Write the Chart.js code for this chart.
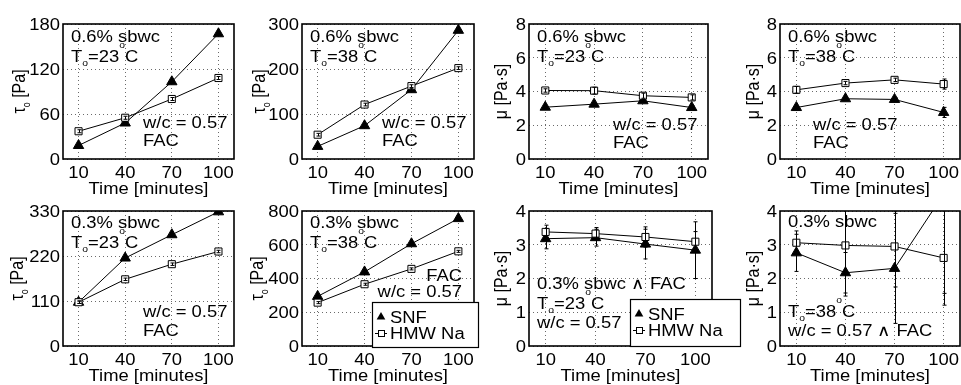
<!DOCTYPE html>
<html>
<head>
<meta charset="utf-8">
<script src="https://cdn.jsdelivr.net/npm/chart.js@4.4.1/dist/chart.umd.min.js"></script>
<style>
  html, body { margin: 0; padding: 0; background: #fff; width: 961px; height: 385px; overflow: hidden; position: relative; }
  canvas { position: absolute; }
</style>
</head>
<body>
<script>
// ---- data -------------------------------------------------------------
const times = [10, 40, 70, 100];
const xTicks = [10, 40, 70, 100];
const seriesNames = ['SNF', 'HMW Na'];

// yield stress τo [Pa], 0.6% sbwc
const tau06_23_snf = [18, 48, 103, 167];
const tau06_23_hmw = [37, 55, 80, 108];
const tau06_23_snfErr = [2, 2, 2, 2];
const tau06_23_hmwErr = [2, 2, 2, 2];
const tau06_38_snf = [28, 74, 154, 286];
const tau06_38_hmw = [54, 121, 162, 202];
const tau06_38_snfErr = [3, 3, 3, 3];
const tau06_38_hmwErr = [3, 3, 3, 3];

// plastic viscosity μ [Pa·s], 0.6% sbwc
const mu06_23_snf = [3.07, 3.25, 3.45, 3.05];
const mu06_23_hmw = [4.06, 4.05, 3.75, 3.65];
const mu06_23_snfErr = [0.05, 0.05, 0.08, 0.1];
const mu06_23_hmwErr = [0.1, 0.2, 0.15, 0.15];
const mu06_38_snf = [3.05, 3.57, 3.53, 2.76];
const mu06_38_hmw = [4.1, 4.5, 4.69, 4.44];
const mu06_38_snfErr = [0.05, 0.1, 0.1, 0.3];
const mu06_38_hmwErr = [0.2, 0.1, 0.1, 0.3];

// yield stress τo [Pa], 0.3% sbwc
const tau03_23_snf = [107, 215, 272, 328];
const tau03_23_hmw = [107, 163, 200, 231];
const tau03_23_snfErr = [3, 3, 3, 3];
const tau03_23_hmwErr = [3, 3, 3, 3];
const tau03_38_snf = [294, 439, 606, 755];
const tau03_38_hmw = [257, 366, 457, 561];
const tau03_38_snfErr = [6, 6, 6, 6];
const tau03_38_hmwErr = [6, 6, 6, 6];

// plastic viscosity μ [Pa·s], 0.3% sbwc
const mu03_23_snf = [3.18, 3.21, 3.02, 2.84];
const mu03_23_hmw = [3.38, 3.33, 3.23, 3.09];
const mu03_23_snfErr = [0.3, 0.25, 0.44, 0.84];
const mu03_23_hmwErr = [0.2, 0.18, 0.3, 0.3];
const mu03_38_snf = [2.76, 2.17, 2.30, 4.5];
const mu03_38_hmw = [3.06, 2.98, 2.95, 2.61];
const mu03_38_snfErr = [0.55, 0.6, 1.63, 2.94];
const mu03_38_hmwErr = [0.35, 1.5, 1.2, 1.4];

// y tick values
const tauTicks06_23 = [0, 60, 120, 180];
const tauTicks06_38 = [0, 100, 200, 300];
const muTicks06 = [0, 2, 4, 6, 8];
const tauTicks03_23 = [0, 110, 220, 330];
const tauTicks03_38 = [0, 200, 400, 600, 800];
const muTicks03 = [0, 1, 2, 3, 4];

// ---- text helpers ------------------------------------------------------
// Helvetica-like face, drawn slightly wide
const FAMILY = '"Liberation Sans", Arial, sans-serif';
const FS = 16;
const SMALL = 9;
const SX = 1.15;
function runFont(kind) { return (kind ? SMALL : FS) + 'px ' + FAMILY; }
function runDy(kind) { return kind === 'sub' ? 4 : kind === 'sup' ? -14 : 0; }
function toRuns(t) { return typeof t === 'string' ? [[t]] : t; }
function richWidth(ctx, runs) {
  let w = 0;
  runs.forEach(r => { ctx.font = runFont(r[1]); w += ctx.measureText(r[0]).width; });
  return w;
}
// draws text runs along the current x axis; glyphs widened by `stretch`
function drawRich(ctx, text, x, y, align, stretch) {
  const runs = toRuns(text);
  const k = stretch === undefined ? SX : stretch;
  const w = richWidth(ctx, runs) * k;
  let cx = align === 'right' ? x - w : align === 'center' ? x - w / 2 : x;
  ctx.textAlign = 'left';
  ctx.textBaseline = 'alphabetic';
  ctx.fillStyle = '#000';
  runs.forEach(r => {
    ctx.font = runFont(r[1]);
    ctx.save();
    ctx.translate(cx, y + runDy(r[1]));
    ctx.scale(k, 1);
    ctx.fillText(r[0], 0, 0);
    ctx.restore();
    cx += ctx.measureText(r[0]).width * k;
  });
}

const T23 = [['T'], ['o', 'sub'], ['=23'], ['o', 'sup'], ['C']];
const T38 = [['T'], ['o', 'sub'], ['=38'], ['o', 'sup'], ['C']];
const TAU_TITLE = [['τ'], ['o', 'sub'], [' [Pa]']];
const MU_TITLE = 'μ [Pa·s]';
const X_TITLE = 'Time [minutes]';

// ---- decoration plugin: error bars, frame, tick labels, notes, titles, legend
const panelDecor = {
  id: 'panelDecor',
  afterDatasetsDraw(chart) {
    const ctx = chart.ctx, ca = chart.chartArea;
    const xs = chart.scales.x, ys = chart.scales.y;
    ctx.save();
    ctx.beginPath();
    ctx.rect(ca.left, ca.top, ca.right - ca.left, ca.bottom - ca.top);
    ctx.clip();
    ctx.strokeStyle = '#000';
    ctx.lineWidth = 1;
    chart.data.datasets.forEach(ds => {
      (ds.errs || []).forEach((e, i) => {
        const pt = ds.data[i];
        const px = Math.round(xs.getPixelForValue(pt.x)) + 0.5;
        const y1 = ys.getPixelForValue(pt.y - e), y2 = ys.getPixelForValue(pt.y + e);
        ctx.beginPath();
        ctx.moveTo(px, y1); ctx.lineTo(px, y2);
        ctx.moveTo(px - 2, y1); ctx.lineTo(px + 2, y1);
        ctx.moveTo(px - 2, y2); ctx.lineTo(px + 2, y2);
        ctx.stroke();
      });
    });
    ctx.restore();
    // plot frame
    ctx.save();
    ctx.strokeStyle = '#000';
    ctx.lineWidth = 1.6;
    ctx.strokeRect(ca.left, ca.top, ca.right - ca.left, ca.bottom - ca.top);
    ctx.restore();
  },
  afterDraw(chart, args, opts) {
    const ctx = chart.ctx, ca = chart.chartArea;
    const xs = chart.scales.x, ys = chart.scales.y;
    ctx.save();
    // tick labels at the scales' tick positions
    xs.ticks.forEach(t => drawRich(ctx, String(t.value), xs.getPixelForValue(t.value), ca.bottom + 18.5, 'center'));
    ys.ticks.forEach(t => drawRich(ctx, String(t.value), ca.left - 3, ys.getPixelForValue(t.value) + 5.8, 'right'));
    // in-plot notes
    (opts.notes || []).forEach(n => {
      drawRich(ctx, n.text, ca.left + n.x, ca.top + n.y, n.align || 'left');
    });
    // y title (rotated; widened across the page x direction)
    ctx.save();
    ctx.translate(ca.left - opts.yTitleGap, (ca.top + ca.bottom) / 2);
    ctx.scale(SX, 1);
    ctx.rotate(-Math.PI / 2);
    drawRich(ctx, opts.yTitle, 0, 0, 'center', 1);
    ctx.restore();
    // x title
    drawRich(ctx, X_TITLE, (ca.left + ca.right) / 2, ca.bottom + 35, 'center');
    // legend
    const lg = opts.legend;
    if (lg) {
      const lx = ca.left + lg.x, ly = ca.top + lg.y;
      ctx.fillStyle = '#fff';
      ctx.fillRect(lx, ly, lg.w, lg.h);
      ctx.strokeStyle = '#000';
      ctx.lineWidth = 1.2;
      ctx.strokeRect(lx + 0.5, ly + 0.5, lg.w, lg.h);
      const names = chart.data.datasets.map(d => d.label);
      // SNF entry: filled triangle
      const tx = lx + 9, ty = ly + 15, r = 5;
      ctx.fillStyle = '#000';
      ctx.beginPath();
      ctx.moveTo(tx, ty - r);
      ctx.lineTo(tx + r * 0.866, ty + r / 2);
      ctx.lineTo(tx - r * 0.866, ty + r / 2);
      ctx.closePath();
      ctx.fill();
      drawRich(ctx, names[1], lx + 18, ly + 21, 'left');
      // HMW Na entry: line with open square
      const sx = lx + 9, sy = ly + 31;
      ctx.strokeStyle = '#000';
      ctx.lineWidth = 1;
      ctx.beginPath();
      ctx.moveTo(lx + 3, sy + 0.5); ctx.lineTo(lx + 15, sy + 0.5);
      ctx.stroke();
      ctx.fillStyle = '#fff';
      ctx.fillRect(sx - 3, sy - 3, 7, 7);
      ctx.strokeRect(sx - 2.5, sy - 2.5, 6, 6);
      drawRich(ctx, names[0], lx + 18, ly + 37, 'left');
    }
    ctx.restore();
  }
};

// ---- panels -------------------------------------------------------------
const panels = [
  { box: [63, 24, 238, 159], ticks: tauTicks06_23, snf: tau06_23_snf, hmw: tau06_23_hmw, snfErr: tau06_23_snfErr, hmwErr: tau06_23_hmwErr,
    yTitle: TAU_TITLE, yTitleGap: 38,
    notes: [{ text: '0.6% sbwc', x: 8, y: 18 }, { text: T23, x: 8, y: 38 }, { text: 'w/c = 0.57', x: 80, y: 104 }, { text: 'FAC', x: 80, y: 122 }] },
  { box: [302, 24, 478, 159], ticks: tauTicks06_38, snf: tau06_38_snf, hmw: tau06_38_hmw, snfErr: tau06_38_snfErr, hmwErr: tau06_38_hmwErr,
    yTitle: TAU_TITLE, yTitleGap: 37,
    notes: [{ text: '0.6% sbwc', x: 8, y: 18 }, { text: T38, x: 8, y: 38 }, { text: 'w/c = 0.57', x: 80, y: 104 }, { text: 'FAC', x: 80, y: 122 }] },
  { box: [529, 24, 712, 159], ticks: muTicks06, snf: mu06_23_snf, hmw: mu06_23_hmw, snfErr: mu06_23_snfErr, hmwErr: mu06_23_hmwErr,
    yTitle: MU_TITLE, yTitleGap: 22,
    notes: [{ text: '0.6% sbwc', x: 8, y: 18 }, { text: T23, x: 8, y: 38 }, { text: 'w/c = 0.57', x: 84, y: 106 }, { text: 'FAC', x: 84, y: 124 }] },
  { box: [780, 24, 964, 159], ticks: muTicks06, snf: mu06_38_snf, hmw: mu06_38_hmw, snfErr: mu06_38_snfErr, hmwErr: mu06_38_hmwErr,
    yTitle: MU_TITLE, yTitleGap: 21,
    notes: [{ text: '0.6% sbwc', x: 8, y: 18 }, { text: T38, x: 8, y: 38 }, { text: 'w/c = 0.57', x: 33, y: 106 }, { text: 'FAC', x: 33, y: 124 }] },
  { box: [63, 211, 238, 346], ticks: tauTicks03_23, snf: tau03_23_snf, hmw: tau03_23_hmw, snfErr: tau03_23_snfErr, hmwErr: tau03_23_hmwErr,
    yTitle: TAU_TITLE, yTitleGap: 40,
    notes: [{ text: '0.3% sbwc', x: 8, y: 17 }, { text: T23, x: 8, y: 37 }, { text: 'w/c = 0.57', x: 80, y: 106 }, { text: 'FAC', x: 80, y: 125 }] },
  { box: [302, 211, 478, 346], ticks: tauTicks03_38, snf: tau03_38_snf, hmw: tau03_38_hmw, snfErr: tau03_38_snfErr, hmwErr: tau03_38_hmwErr,
    yTitle: TAU_TITLE, yTitleGap: 39,
    notes: [{ text: '0.3% sbwc', x: 8, y: 17 }, { text: T38, x: 8, y: 37 }, { text: 'FAC', x: 160, y: 70, align: 'right' }, { text: 'w/c = 0.57', x: 160, y: 86, align: 'right' }],
    legend: { x: 70, y: 91, w: 106, h: 45 } },
  { box: [529, 211, 712, 346], ticks: muTicks03, snf: mu03_23_snf, hmw: mu03_23_hmw, snfErr: mu03_23_snfErr, hmwErr: mu03_23_hmwErr,
    yTitle: MU_TITLE, yTitleGap: 22, extendRight: 746,
    notes: [{ text: '0.3% sbwc ∧ FAC', x: 8, y: 78 }, { text: T23, x: 8, y: 98 }, { text: 'w/c = 0.57', x: 8, y: 117 }],
    legend: { x: 101, y: 88, w: 110, h: 47 } },
  { box: [780, 211, 964, 346], ticks: muTicks03, snf: mu03_38_snf, hmw: mu03_38_hmw, snfErr: mu03_38_snfErr, hmwErr: mu03_38_hmwErr,
    yTitle: MU_TITLE, yTitleGap: 21,
    notes: [{ text: '0.3% sbwc', x: 8, y: 16 }, { text: T38, x: 8, y: 106 }, { text: 'w/c = 0.57 ∧ FAC', x: 8, y: 125 }] }
];

function pts(vals) { return times.map((t, i) => ({ x: t, y: vals[i] })); }

panels.forEach(p => {
  const [L, T, R, B] = p.box;
  const cx = L - 63, cy = T - 22;
  const cw = (p.extendRight || R + 3) - cx;
  const ch = B + 42 - cy;
  const cv = document.createElement('canvas');
  cv.width = cw; cv.height = ch;
  cv.style.left = cx + 'px';
  cv.style.top = cy + 'px';
  document.body.appendChild(cv);
  const yTicks = p.ticks;
  new Chart(cv, {
    type: 'line',
    data: {
      datasets: [
        { label: seriesNames[1], data: pts(p.hmw), errs: p.hmwErr, borderColor: '#000', borderWidth: 1,
          pointStyle: 'rect', pointRadius: 5, pointBackgroundColor: '#fff', pointBorderColor: '#000', pointBorderWidth: 1, tension: 0 },
        { label: seriesNames[0], data: pts(p.snf), errs: p.snfErr, borderColor: '#000', borderWidth: 1,
          pointStyle: 'triangle', pointRadius: 6, pointBackgroundColor: '#000', pointBorderColor: '#000', pointBorderWidth: 1, tension: 0 }
      ]
    },
    options: {
      responsive: false,
      animation: false,
      devicePixelRatio: 1,
      events: [],
      layout: { padding: { left: 0, top: T - cy, right: cx + cw - R, bottom: 0 } },
      plugins: {
        legend: { display: false },
        tooltip: { enabled: false },
        panelDecor: { notes: p.notes, yTitle: p.yTitle, yTitleGap: p.yTitleGap, legend: p.legend || null }
      },
      scales: {
        x: {
          type: 'linear', min: 0, max: 110,
          afterBuildTicks: s => { s.ticks = xTicks.map(v => ({ value: v })); },
          afterFit: s => { s.height = cy + ch - B; s.paddingLeft = 0; s.paddingRight = 0; },
          grid: { color: '#6a6a6a', lineWidth: 1, drawTicks: false },
          border: { display: false, dash: [1, 3] },
          ticks: { display: false }
        },
        y: {
          type: 'linear', min: yTicks[0], max: yTicks[yTicks.length - 1],
          afterBuildTicks: s => { s.ticks = yTicks.map(v => ({ value: v })); },
          afterFit: s => { s.width = L - cx; s.paddingTop = 0; s.paddingBottom = 0; },
          grid: { color: '#6a6a6a', lineWidth: 1, drawTicks: false },
          border: { display: false, dash: [1, 3] },
          ticks: { display: false }
        }
      }
    },
    plugins: [panelDecor]
  });
});
</script>
</body>
</html>
